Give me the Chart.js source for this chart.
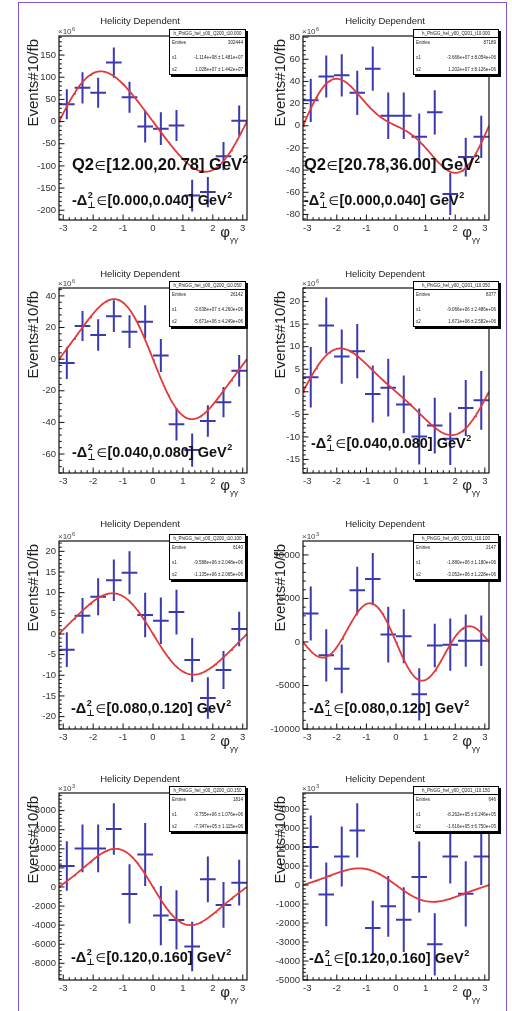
<!DOCTYPE html>
<html>
<head>
<meta charset="utf-8">
<script src="https://cdn.jsdelivr.net/npm/chart.js@4/dist/chart.umd.min.js"></script>
<style>
  html, body { margin: 0; padding: 0; background: #fff; }
  body { width: 512px; height: 1011px; position: relative; overflow: hidden; }
  canvas { position: absolute; }
  #border { position: absolute; left: 18px; top: 2px; width: 489px; height: 1020px;
            border: 1.5px solid #8455cc; box-sizing: border-box; pointer-events: none; }
</style>
</head>
<body>
<div id="border"></div>
<script>
// phi_gg bins: 12 bins over [-pi, pi]
const binCenters = [-2.880, -2.356, -1.833, -1.309, -0.785, -0.262, 0.262, 0.785, 1.309, 1.833, 2.356, 2.880];
const binHalfWidth = 0.2618;

// Helicity-dependent yields (Events/10/fb), in units of the axis multiplier
const yieldsQ0T0 = [39, 76, 65, 133, 55, -11, -16, -9, -167, -159, -78, 2];
const errorsQ0T0 = [34, 35, 34, 34, 35, 36, 37, 35, 36, 34, 32, 34];
const yieldsQ1T0 = [23, 44.5, 45.5, 29.7, 51.5, 9.1, 9.1, -10, 12.1, -61.5, -28.2, -10];
const errorsQ1T0 = [19.5, 19, 19, 20, 20, 21, 21, 21, 20, 19, 17.5, 19];
const yieldsQ0T1 = [-2.5, 21, 15.3, 27.2, 17.4, 23.6, 2.3, -41.2, -57.5, -39.1, -27.2, -7.3];
const errorsQ0T1 = [10, 9.5, 10, 10, 10.3, 10.5, 10.5, 10.3, 10.5, 10, 9.6, 10];
const yieldsQ1T1 = [3.2, 14.7, 7.8, 9.0, -0.5, 0.9, -2.8, -9.9, -7.5, -10.4, -3.6, -1.9];
const errorsQ1T1 = [6.7, 6.2, 6, 6, 6.3, 6.4, 6.4, 6.2, 6.2, 5.8, 6.2, 6.5];
const yieldsQ0T2 = [-3.8, 4.4, 9, 13, 14.8, 4.6, 3.2, 5.3, -6.3, -15.5, -8.7, 1.2];
const errorsQ0T2 = [4.2, 4.3, 4.5, 5, 5.2, 5.4, 5.6, 5.4, 5.3, 5, 4.6, 4.2];
const yieldsQ1T2 = [3280, -1540, -3090, 5950, 7220, 850, 660, -6020, -400, -310, 150, 150];
const errorsQ1T2 = [3100, 3000, 2800, 2700, 3000, 3200, 3100, 3000, 2500, 3000, 3000, 2900];
const yieldsQ0T3 = [2200, 4040, 4040, 6080, -730, 3410, -3000, -3450, -6240, 800, -1880, 450];
const errorsQ0T3 = [2600, 2500, 2500, 2700, 3100, 3300, 3100, 3100, 2600, 2400, 2400, 2400];
const yieldsQ1T3 = [2000, -490, 1510, 2880, -2260, -1120, -1820, 420, -3120, 1510, -460, 1510];
const errorsQ1T3 = [1670, 1680, 1580, 1430, 1430, 1600, 1700, 1870, 1640, 1430, 1720, 1500];

// Fit: x1*sin(phi) + x2*sin(2 phi)
const fitX1 = [-1.114e8, -3.666e7, -3.638e7, -9.066e6, -9.588e6, -1.88e6, -3.755e6, -8.262e5];
const fitX1Err = [1.481e7, 8.054e6, 4.260e6, 2.486e6, 2.048e6, 1.18e6, 1.076e6, 6.246e5];
const fitX2 = [1.028e7, 1.202e7, -5.671e6, 1.671e6, -1.135e6, -3.052e6, -7.347e5, -1.616e5];
const fitX2Err = [1.442e7, 8.126e6, 4.249e6, 2.582e6, 2.065e6, 1.228e6, 1.115e6, 6.750e5];
const entries = [302444, 87189, 26142, 8377, 6140, 2147, 1814, 646];
const histNames = [
  'h_PhiGG_hel_y00_Q200_t10.000', 'h_PhiGG_hel_y00_Q201_t10.000',
  'h_PhiGG_hel_y00_Q200_t10.050', 'h_PhiGG_hel_y00_Q201_t10.050',
  'h_PhiGG_hel_y00_Q200_t10.100', 'h_PhiGG_hel_y00_Q201_t10.100',
  'h_PhiGG_hel_y00_Q200_t10.150', 'h_PhiGG_hel_y00_Q201_t10.150'
];
const q2Ranges = ['[12.00,20.78]', '[20.78,36.00]'];
const tRanges = ['[0.000,0.040]', '[0.040,0.080]', '[0.080,0.120]', '[0.120,0.160]'];
const axisExponent = [6, 6, 6, 6, 6, 3, 3, 3];
const yMin = [-222, -85, -72, -18, -23, -10000, -9750, -5000];
const yMax = [193, 81, 45, 23, 22.5, 11600, 9850, 4850];
const yStep = [50, 20, 20, 5, 5, 5000, 2000, 1000];

const panelYields = [yieldsQ0T0, yieldsQ1T0, yieldsQ0T1, yieldsQ1T1, yieldsQ0T2, yieldsQ1T2, yieldsQ0T3, yieldsQ1T3];
const panelErrors = [errorsQ0T0, errorsQ1T0, errorsQ0T1, errorsQ1T1, errorsQ0T2, errorsQ1T2, errorsQ0T3, errorsQ1T3];

// ---- page layout (pixels) ----
const FONT = "'Liberation Sans', Arial, 'DejaVu Sans', sans-serif";
const cellX = [0, 256];
const cellY = [0, 252, 504, 756];
const cellH = [252, 252, 252, 255];
const frameLR = [[59, 247], [303, 489]];
const frameTB = [[36, 220], [288, 473], [541, 729], [793, 980]];
const titleX = [140, 385];
const titleY = [21, 274, 524, 779];
const yTitleX = [34, 281];
const statsX = [169, 413];
const statsW = [77, 86];
const annotTX = [72, 304, 72, 311, 71, 309, 71, 309];
const annotTY = [205, 205, 457, 448, 713, 713, 962, 963];
const Y_AXIS_W = 40, X_AXIS_H = 24;

function sci(v) {
  const s = v.toExponential(3);
  const [m, e] = s.split('e');
  return m + 'e' + e[0] + e.slice(1).padStart(2, '0');
}

function crossPoints(values, errors) {
  const pts = [];
  values.forEach((v, i) => {
    const c = binCenters[i];
    pts.push({ x: c - binHalfWidth, y: v }, { x: c + binHalfWidth, y: v }, { x: c, y: null });
    pts.push({ x: c, y: v - errors[i] }, { x: c, y: v + errors[i] }, { x: c, y: null });
  });
  return pts;
}

function fitCurve(k) {
  const scale = Math.pow(10, axisExponent[k]);
  const pts = [];
  const n = 200;
  for (let i = 0; i <= n; i++) {
    const x = -Math.PI + (2 * Math.PI * i) / n;
    pts.push({ x, y: (fitX1[k] * Math.sin(x) + fitX2[k] * Math.sin(2 * x)) / scale });
  }
  return pts;
}

// draw text pieces left to right; kind: text | sym | sup | stack
function drawPieces(ctx, x, y, size, pieces) {
  let cx = x;
  const big = `bold ${size}px ${FONT}`;
  const sym = `${Math.round(size * 0.8)}px 'DejaVu Sans', ${FONT}`;
  const small = `bold ${Math.round(size * 0.62)}px ${FONT}`;
  ctx.textAlign = 'left';
  ctx.textBaseline = 'alphabetic';
  for (const p of pieces) {
    if (p.kind === 'text') {
      ctx.font = big; ctx.fillText(p.t, cx, y); cx += ctx.measureText(p.t).width;
    } else if (p.kind === 'sym') {
      ctx.font = sym; ctx.fillText(p.t, cx + 0.5, y - 0.5); cx += ctx.measureText(p.t).width + 1;
    } else if (p.kind === 'sup') {
      ctx.font = small; ctx.fillText(p.t, cx + 0.5, y - size * 0.45); cx += ctx.measureText(p.t).width + 1;
    } else {
      ctx.font = small;
      ctx.fillText(p.sup, cx + 0.5, y - size * 0.45);
      ctx.fillText(p.sub, cx, y + size * 0.2);
      cx += Math.max(ctx.measureText(p.sup).width, ctx.measureText(p.sub).width) + 0.5;
    }
  }
}

const rootDecor = {
  id: 'rootDecor',
  afterDraw(chart, args, o) {
    const ctx = chart.ctx;
    const a = chart.chartArea;
    const xs = chart.scales.x, ys = chart.scales.y;
    const k = o.k, col = k % 2, row = Math.floor(k / 2);
    const ox = cellX[col], oy = cellY[row];
    ctx.save();
    // frame
    ctx.strokeStyle = '#111';
    ctx.lineWidth = 1.2;
    ctx.strokeRect(a.left, a.top, a.right - a.left, a.bottom - a.top);
    // inside ticks
    ctx.lineWidth = 1;
    ctx.beginPath();
    const xMinor = 0.2;
    for (let v = Math.ceil(xs.min / xMinor) * xMinor; v <= xs.max + 1e-9; v += xMinor) {
      const px = xs.getPixelForValue(v);
      const major = Math.abs(v - Math.round(v)) < 1e-6;
      ctx.moveTo(px, a.bottom); ctx.lineTo(px, a.bottom - (major ? 5.5 : 2.8));
    }
    const yMinor = yStep[k] / 5;
    for (let v = Math.ceil(ys.min / yMinor) * yMinor; v <= ys.max + 1e-9; v += yMinor) {
      const py = ys.getPixelForValue(v);
      const major = Math.abs(v / yStep[k] - Math.round(v / yStep[k])) < 1e-6;
      ctx.moveTo(a.left, py); ctx.lineTo(a.left + (major ? 5.5 : 2.8), py);
    }
    ctx.stroke();

    ctx.fillStyle = '#222';
    // title
    ctx.font = `9.5px ${FONT}`;
    ctx.textAlign = 'center'; ctx.textBaseline = 'middle';
    ctx.fillText('Helicity Dependent', titleX[col] - ox, titleY[row] - oy);
    // multiplier
    ctx.fillStyle = '#444';
    ctx.textAlign = 'left'; ctx.textBaseline = 'alphabetic';
    ctx.font = `8px ${FONT}`;
    ctx.fillText('\u00d710', a.left - 1, a.top - 2);
    const w10 = ctx.measureText('\u00d710').width;
    ctx.font = `5.5px ${FONT}`;
    ctx.fillText(String(axisExponent[k]), a.left - 1 + w10 + 0.5, a.top - 5.5);
    // y title
    ctx.fillStyle = '#222';
    ctx.save();
    ctx.translate(yTitleX[col] - ox, a.top + 3);
    ctx.rotate(-Math.PI / 2);
    ctx.font = `15px ${FONT}`;
    ctx.textAlign = 'right'; ctx.textBaseline = 'middle';
    ctx.fillText('Events#10/fb', 0, 0);
    ctx.restore();
    // x title
    ctx.font = `15px ${FONT}`;
    ctx.textAlign = 'center'; ctx.textBaseline = 'middle';
    ctx.fillText('\u03c6', a.right - 22, a.bottom + 13);
    ctx.font = `8px ${FONT}`;
    ctx.textAlign = 'left';
    ctx.fillText('\u03b3\u03b3', a.right - 17, a.bottom + 20);

    // kinematic bin labels
    ctx.fillStyle = '#111';
    if (row === 0) {
      drawPieces(ctx, annotTX[k] - ox, annotTY[k] - oy - 35, 16.5, [
        { kind: 'text', t: 'Q2' }, { kind: 'sym', t: '\u2208' },
        { kind: 'text', t: q2Ranges[col] + ' GeV' }, { kind: 'sup', t: '2' }
      ]);
    }
    drawPieces(ctx, annotTX[k] - ox, annotTY[k] - oy, 14.5, [
      { kind: 'text', t: '-\u0394' }, { kind: 'stack', sup: '2', sub: '\u22a5' },
      { kind: 'sym', t: '\u2208' },
      { kind: 'text', t: tRanges[row] + ' GeV' }, { kind: 'sup', t: '2' }
    ]);

    // stats box
    const bx = statsX[col] - ox, by = a.top - 7, bw = statsW[col], bh = 46;
    ctx.fillStyle = '#000';
    ctx.fillRect(bx + 2, by + 2, bw, bh);
    ctx.fillStyle = '#fff';
    ctx.fillRect(bx, by, bw, bh);
    ctx.strokeStyle = '#000'; ctx.lineWidth = 1;
    ctx.strokeRect(bx + 0.5, by + 0.5, bw - 1, bh - 1);
    ctx.beginPath(); ctx.moveTo(bx, by + 8.5); ctx.lineTo(bx + bw, by + 8.5); ctx.stroke();
    ctx.fillStyle = '#222';
    ctx.font = `4.5px ${FONT}`;
    ctx.textBaseline = 'middle';
    ctx.textAlign = 'center';
    ctx.fillText(histNames[k], bx + bw / 2, by + 4.5);
    ctx.textAlign = 'left';
    ctx.fillText('Entries', bx + 3, by + 14);
    ctx.fillText('x1', bx + 3, by + 29);
    ctx.fillText('x2', bx + 3, by + 40.5);
    ctx.textAlign = 'right';
    ctx.fillText(String(entries[k]), bx + bw - 3, by + 14);
    ctx.fillText(sci(fitX1[k]) + ' \u00b1 ' + sci(fitX1Err[k]), bx + bw - 3, by + 29);
    ctx.fillText(sci(fitX2[k]) + ' \u00b1 ' + sci(fitX2Err[k]), bx + bw - 3, by + 40.5);
    ctx.restore();
  }
};

for (let k = 0; k < 8; k++) {
  const col = k % 2, row = Math.floor(k / 2);
  const cv = document.createElement('canvas');
  cv.width = 256; cv.height = cellH[row];
  cv.style.left = cellX[col] + 'px';
  cv.style.top = cellY[row] + 'px';
  document.body.appendChild(cv);
  const [l, r] = frameLR[col];
  const [t, b] = frameTB[row];
  const padding = {
    left: l - cellX[col] - Y_AXIS_W,
    right: cellX[col] + 256 - r,
    top: t - cellY[row],
    bottom: cellY[row] + cellH[row] - b - X_AXIS_H
  };
  new Chart(cv.getContext('2d'), {
    type: 'scatter',
    data: {
      datasets: [
        { data: fitCurve(k), showLine: true, borderColor: '#e23a3a', borderWidth: 1.8,
          pointRadius: 0, tension: 0, order: 0 },
        { data: crossPoints(panelYields[k], panelErrors[k]), showLine: true, spanGaps: false,
          borderColor: '#3a3aae', borderWidth: 2, pointRadius: 0, order: 1 }
      ]
    },
    options: {
      responsive: false, animation: false, devicePixelRatio: 1,
      layout: { padding },
      plugins: { legend: { display: false }, tooltip: { enabled: false }, rootDecor: { k } },
      scales: {
        x: {
          type: 'linear', min: -Math.PI, max: Math.PI,
          afterFit(s) { s.height = X_AXIS_H; },
          grid: { display: false, drawTicks: false }, border: { display: false },
          ticks: { stepSize: 1, includeBounds: false, autoSkip: false, maxRotation: 0, padding: 3,
                   color: '#333', font: { family: FONT, size: 9.5 }, callback: v => String(v) }
        },
        y: {
          type: 'linear', min: yMin[k], max: yMax[k],
          afterFit(s) { s.width = Y_AXIS_W; },
          afterBuildTicks(s) {
            const st = yStep[k];
            const list = [];
            for (let v = Math.ceil(yMin[k] / st) * st; v <= yMax[k] + 1e-9; v += st) list.push({ value: v });
            s.ticks = list;
          },
          grid: { display: false, drawTicks: false }, border: { display: false },
          ticks: { autoSkip: false, padding: 3,
                   color: '#333', font: { family: FONT, size: 9.5 }, callback: v => String(v) }
        }
      }
    },
    plugins: [rootDecor]
  });
}
</script>
</body>
</html>
